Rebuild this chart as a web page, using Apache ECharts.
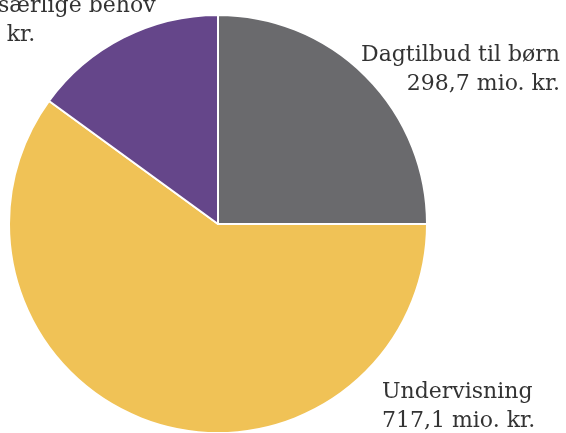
<!DOCTYPE html>
<html>
<head>
<meta charset="utf-8">
<script src="https://cdn.jsdelivr.net/npm/echarts@6/dist/echarts.min.js"></script>
<style>
html,body{margin:0;padding:0;background:#fff;}
#chart{width:566px;height:433px;}
</style>
</head>
<body>
<div id="chart"></div>
<script>
const categories = ["Dagtilbud til børn", "Undervisning", "Børn med særlige behov"];
const values = [298.7, 717.1, 179.0];
const colors = ["#6a6a6d", "#f0c256", "#65468a"];

const fmt = v => v.toFixed(1).replace('.', ',') + ' mio. kr.';

// label anchor positions (style only)
const labelPos = [
  {x: 560, y: 41, align: 'right'},
  {x: 382, y: 378, align: 'left'},
  {x: -118, y: -8, align: 'left'}
];

const chart = echarts.init(document.getElementById('chart'), null, {renderer: 'canvas'});
chart.setOption({
  animation: false,
  series: [{
    type: 'pie',
    center: [218, 224],
    radius: 209,
    startAngle: 90,
    clockwise: true,
    avoidLabelOverlap: false,
    itemStyle: {borderColor: '#ffffff', borderWidth: 2},
    label: {
      show: true,
      position: 'outside',
      overflow: 'none',
      formatter: p => p.name + '\n' + fmt(p.value),
      fontFamily: 'DejaVu Serif',
      fontSize: 22,
      lineHeight: 29,
      color: '#333333'
    },
    labelLine: {show: false},
    labelLayout: function (params) {
      const lp = labelPos[params.dataIndex];
      return {x: lp.x, y: lp.y, align: lp.align, verticalAlign: 'top', hideOverlap: false};
    },
    emphasis: {disabled: true},
    data: categories.map((c, i) => ({name: c, value: values[i], itemStyle: {color: colors[i]}}))
  }]
});
</script>
</body>
</html>
